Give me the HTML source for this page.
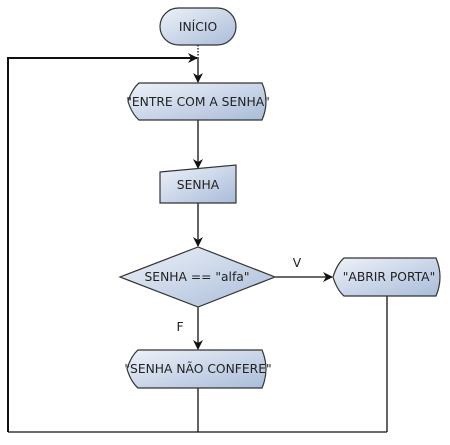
<!DOCTYPE html>
<html><head><style>html,body{margin:0;padding:0;background:#fff}</style></head><body>
<svg width="450" height="440" viewBox="0 0 450 440" xmlns="http://www.w3.org/2000/svg" font-family="'DejaVu Sans', 'Liberation Sans', sans-serif" font-size="12.3">
<defs>
<linearGradient id="g" x1="0" y1="0" x2="1" y2="1">
<stop offset="0" stop-color="#eef2f9"/><stop offset="1" stop-color="#a9bcd9"/>
</linearGradient>
<marker id="a" markerWidth="10" markerHeight="10" refX="9" refY="5" orient="auto" markerUnits="userSpaceOnUse">
<path d="M0,0 L10,5 L0,10 L3,5 Z" fill="#111"/></marker>
</defs>
<g stroke="#111" fill="none" stroke-width="1.3">
<path d="M198,45 V58" stroke-dasharray="1.5,1.5"/>
<path d="M198,58 V82" marker-end="url(#a)"/>
<path d="M8,432 V58 H197" stroke-width="2" marker-end="url(#a)"/>
<path d="M198,120 V168" marker-end="url(#a)"/>
<path d="M198,203 V246" marker-end="url(#a)"/>
<path d="M275,277 H332" marker-end="url(#a)"/>
<path d="M198,307 V349" marker-end="url(#a)"/>
<path d="M198,388 V432"/>
<path d="M387,296 V432"/>
<path d="M8,432 H387"/>
</g>
<g fill="url(#g)" stroke="#333" stroke-width="1.2">
<rect x="160" y="8" width="76" height="37" rx="18.5"/>
<path d="M128,101.5 Q132,89 139,83 H262 Q270,101.5 262,120 H139 Q132,114 128,101.5 Z"/>
<path d="M160,172 L236,165 V203 H160 Z"/>
<path d="M120,277 L198,247 L275,277 L198,307 Z"/>
<path d="M333,277 Q337,264 344,258 H436 Q444,277 436,296 H344 Q337,290 333,277 Z"/>
<path d="M127,369 Q131,356 138,350 H262 Q270,369 262,388 H138 Q131,382 127,369 Z"/>
</g>
<g fill="#222" text-anchor="middle">
<text x="198" y="31">INÍCIO</text>
<text x="198" y="106">"ENTRE COM A SENHA"</text>
<text x="198" y="189">SENHA</text>
<text x="197" y="281">SENHA == "alfa"</text>
<text x="389" y="281">"ABRIR PORTA"</text>
<text x="198" y="373">"SENHA NÃO CONFERE"</text>
<text x="297" y="267">V</text>
<text x="180" y="331">F</text>
</g>
</svg>
</body></html>
